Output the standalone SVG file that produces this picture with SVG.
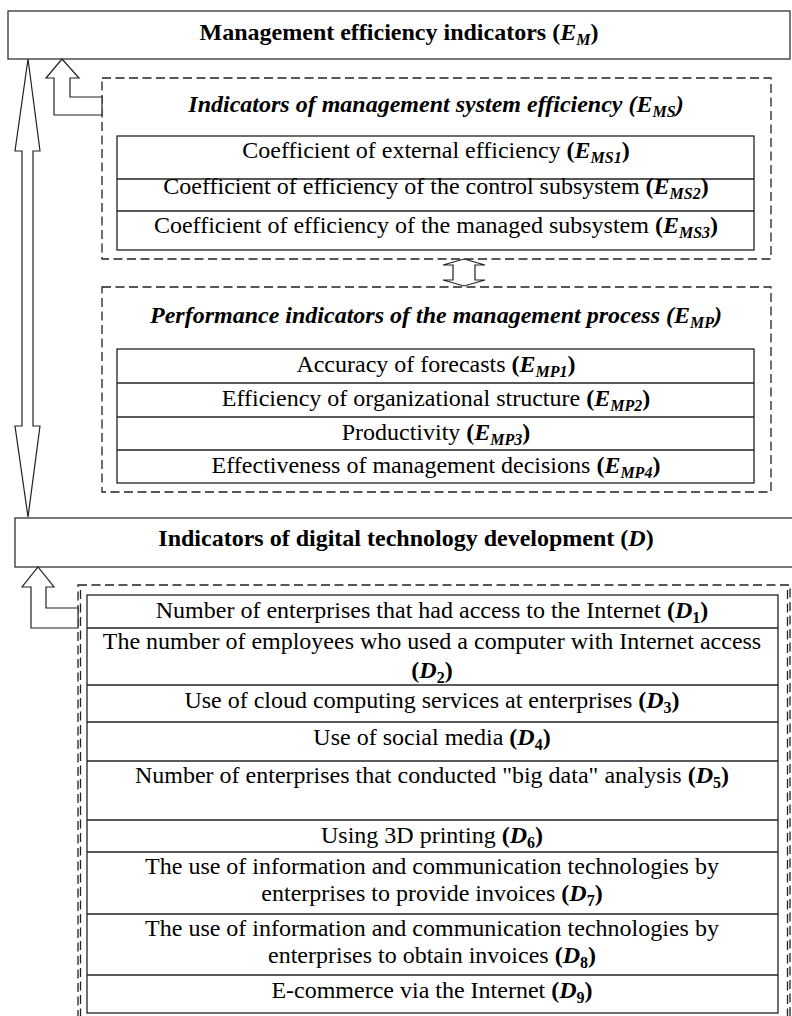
<svg xmlns="http://www.w3.org/2000/svg" width="792" height="1016" viewBox="0 0 792 1016">
<style>
.t{font-size:24px;fill:#000;text-anchor:middle}
.b{font-weight:bold}
.bi{font-weight:bold;font-style:italic}
.sub{font-size:16px}
.box{fill:#fff;stroke:#333;stroke-width:1.3}
.cell{fill:none;stroke:#222;stroke-width:1.3}
.dash{fill:none;stroke:#222;stroke-width:1.3;stroke-dasharray:9 4.5}
.arr{fill:#fff;stroke:#222;stroke-width:1.2;stroke-linejoin:miter}
</style>
<rect width="792" height="1016" fill="#fff"/>
<g font-family="'Liberation Serif', 'Times New Roman', serif">

<g id="node-EM">
<rect class="box" x="8" y="11" width="782" height="48"/>
<text class="t b" x="399" y="40">Management efficiency indicators (<tspan class="bi">E</tspan><tspan class="bi sub" dy="5">M</tspan><tspan dy="-5">)</tspan></text>
</g>

<g id="node-EMS">
<rect class="dash" x="102" y="78" width="669" height="181"/>
<text class="t bi" x="436" y="112">Indicators of management system efficiency (E<tspan class="sub" dy="5">MS</tspan><tspan dy="-5">)</tspan></text>
<rect class="cell" x="117" y="136" width="637" height="114"/>
<line class="cell" x1="117" y1="179" x2="754" y2="179"/>
<line class="cell" x1="117" y1="211" x2="754" y2="211"/>
<text class="t" x="436" y="158">Coefficient of external efficiency <tspan class="b">(</tspan><tspan class="bi">E</tspan><tspan class="bi sub" dy="5">MS1</tspan><tspan class="b" dy="-5">)</tspan></text>
<text class="t" x="436" y="194">Coefficient of efficiency of the control subsystem <tspan class="b">(</tspan><tspan class="bi">E</tspan><tspan class="bi sub" dy="5">MS2</tspan><tspan class="b" dy="-5">)</tspan></text>
<text class="t" x="436" y="233">Coefficient of efficiency of the managed subsystem <tspan class="b">(</tspan><tspan class="bi">E</tspan><tspan class="bi sub" dy="5">MS3</tspan><tspan class="b" dy="-5">)</tspan></text>
</g>

<g id="node-EMP">
<rect class="dash" x="102" y="287" width="669" height="205"/>
<text class="t bi" x="436" y="323">Performance indicators of the management process (E<tspan class="sub" dy="5">MP</tspan><tspan dy="-5">)</tspan></text>
<rect class="cell" x="117" y="349" width="637" height="134"/>
<line class="cell" x1="117" y1="383" x2="754" y2="383"/>
<line class="cell" x1="117" y1="417" x2="754" y2="417"/>
<line class="cell" x1="117" y1="450" x2="754" y2="450"/>
<text class="t" x="436" y="372">Accuracy of forecasts <tspan class="b">(</tspan><tspan class="bi">E</tspan><tspan class="bi sub" dy="5">MP1</tspan><tspan class="b" dy="-5">)</tspan></text>
<text class="t" x="436" y="406">Efficiency of organizational structure <tspan class="b">(</tspan><tspan class="bi">E</tspan><tspan class="bi sub" dy="5">MP2</tspan><tspan class="b" dy="-5">)</tspan></text>
<text class="t" x="436" y="440">Productivity <tspan class="b">(</tspan><tspan class="bi">E</tspan><tspan class="bi sub" dy="5">MP3</tspan><tspan class="b" dy="-5">)</tspan></text>
<text class="t" x="436" y="473">Effectiveness of management decisions <tspan class="b">(</tspan><tspan class="bi">E</tspan><tspan class="bi sub" dy="5">MP4</tspan><tspan class="b" dy="-5">)</tspan></text>
</g>

<g id="node-D">
<rect class="box" x="15" y="518" width="800" height="49"/>
<text class="t b" x="406" y="546">Indicators of digital technology development (<tspan class="bi">D</tspan>)</text>
</g>

<g id="node-Dlist">
<rect class="dash" x="78" y="585" width="712" height="450"/>
<line class="dash" x1="80.5" y1="590" x2="80.5" y2="1016"/>
<line class="dash" x1="787.5" y1="590" x2="787.5" y2="1016"/>
<rect class="cell" x="87" y="595" width="691" height="418"/>
<line class="cell" x1="87" y1="628" x2="778" y2="628"/>
<line class="cell" x1="87" y1="685" x2="778" y2="685"/>
<line class="cell" x1="87" y1="722" x2="778" y2="722"/>
<line class="cell" x1="87" y1="761" x2="778" y2="761"/>
<line class="cell" x1="87" y1="820" x2="778" y2="820"/>
<line class="cell" x1="87" y1="852" x2="778" y2="852"/>
<line class="cell" x1="87" y1="914" x2="778" y2="914"/>
<line class="cell" x1="87" y1="975" x2="778" y2="975"/>
<text class="t" x="432" y="618">Number of enterprises that had access to the Internet <tspan class="b">(</tspan><tspan class="bi">D</tspan><tspan class="b sub" dy="5">1</tspan><tspan class="b" dy="-5">)</tspan></text>
<text class="t" x="432" y="649">The number of employees who used a computer with Internet access</text>
<text class="t" x="432" y="678"><tspan class="b">(</tspan><tspan class="bi">D</tspan><tspan class="b sub" dy="5">2</tspan><tspan class="b" dy="-5">)</tspan></text>
<text class="t" x="432" y="708">Use of cloud computing services at enterprises <tspan class="b">(</tspan><tspan class="bi">D</tspan><tspan class="b sub" dy="5">3</tspan><tspan class="b" dy="-5">)</tspan></text>
<text class="t" x="432" y="745">Use of social media <tspan class="b">(</tspan><tspan class="bi">D</tspan><tspan class="b sub" dy="5">4</tspan><tspan class="b" dy="-5">)</tspan></text>
<text class="t" x="432" y="783">Number of enterprises that conducted "big data" analysis <tspan class="b">(</tspan><tspan class="bi">D</tspan><tspan class="b sub" dy="5">5</tspan><tspan class="b" dy="-5">)</tspan></text>
<text class="t" x="432" y="843">Using 3D printing <tspan class="b">(</tspan><tspan class="bi">D</tspan><tspan class="b sub" dy="5">6</tspan><tspan class="b" dy="-5">)</tspan></text>
<text class="t" x="432" y="874">The use of information and communication technologies by</text>
<text class="t" x="432" y="901">enterprises to provide invoices <tspan class="b">(</tspan><tspan class="bi">D</tspan><tspan class="b sub" dy="5">7</tspan><tspan class="b" dy="-5">)</tspan></text>
<text class="t" x="432" y="936">The use of information and communication technologies by</text>
<text class="t" x="432" y="963">enterprises to obtain invoices <tspan class="b">(</tspan><tspan class="bi">D</tspan><tspan class="b sub" dy="5">8</tspan><tspan class="b" dy="-5">)</tspan></text>
<text class="t" x="432" y="998">E-commerce via the Internet <tspan class="b">(</tspan><tspan class="bi">D</tspan><tspan class="b sub" dy="5">9</tspan><tspan class="b" dy="-5">)</tspan></text>
</g>
</g>

<g id="connectors">
<polygon class="arr" points="28,59 40,151 33,151 33,426 40,426 28,517 15,426 22,426 22,151 15,151"/>
<polygon class="arr" points="102,97 70,97 70,78 79,78 62,59 46,78 54,78 54,115 102,115"/>
<polygon class="arr" points="464,259 485,265 475,265 475,280 485,280 464,286 443,280 453,280 453,265 443,265"/>
<polygon class="arr" points="78,608 46,608 46,587 54,587 38,567 22,587 31,587 31,628 78,628"/>
</g>
</svg>
